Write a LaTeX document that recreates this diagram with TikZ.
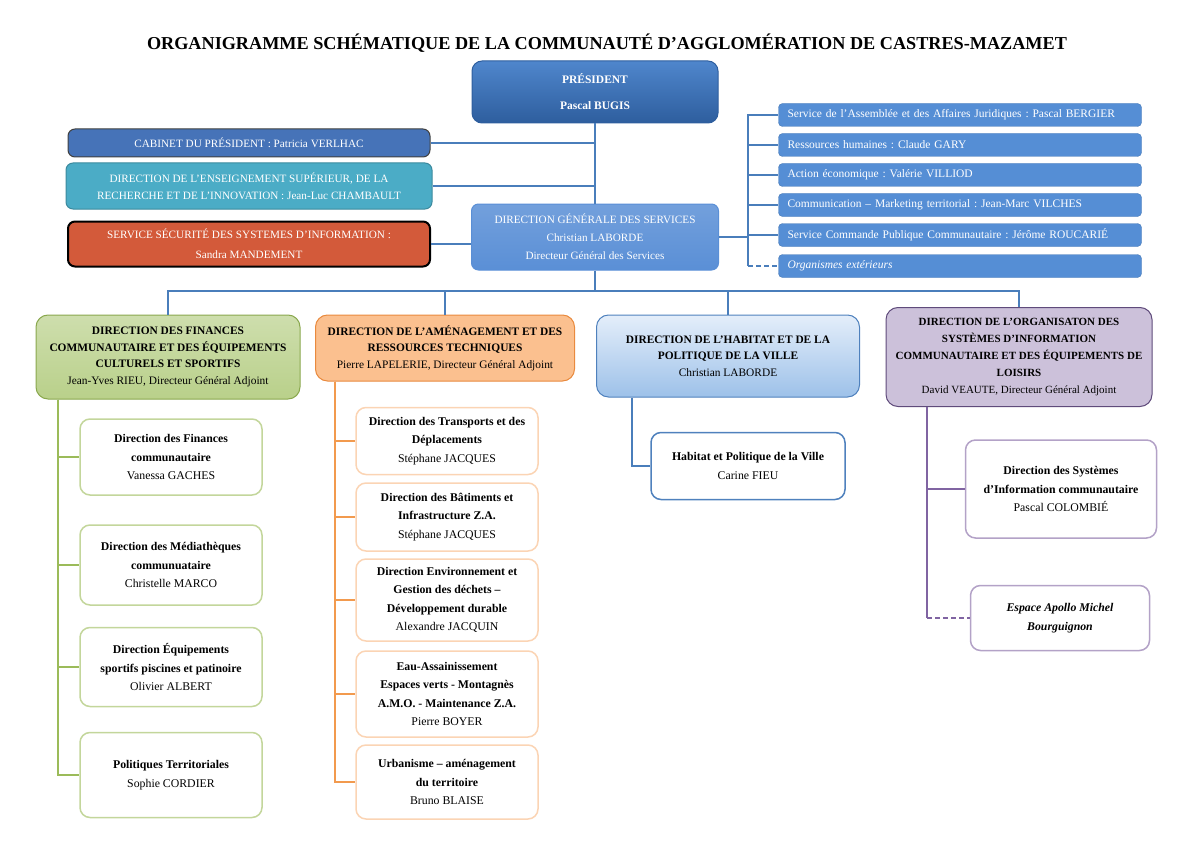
\documentclass[tikz,border=0pt]{standalone}
\usepackage{fontspec}
\setmainfont{Liberation Serif}
\frenchspacing
\definecolor{presA}{HTML}{4F86CC}
\definecolor{presB}{HTML}{2E5E9E}
\definecolor{cabfill}{HTML}{4673B8}
\definecolor{ensfill}{HTML}{4BACC6}
\definecolor{secfill}{HTML}{D35A3A}
\definecolor{dgsfill}{HTML}{5A8FD6}
\definecolor{listfill}{HTML}{558ED5}
\definecolor{blueline}{HTML}{4A7EBB}
\definecolor{greenfill}{HTML}{B9D08A}
\definecolor{greendark}{HTML}{8AA84E}
\definecolor{greenline}{HTML}{9BBB59}
\definecolor{greenkid}{HTML}{C3D69B}
\definecolor{orangefill}{HTML}{FBC08F}
\definecolor{orangedark}{HTML}{E98A3E}
\definecolor{orangeline}{HTML}{F29A4E}
\definecolor{orangekid}{HTML}{FBD4B4}
\definecolor{habA}{HTML}{E4EEFA}
\definecolor{habB}{HTML}{9DC1E9}
\definecolor{habdark}{HTML}{4F81BD}
\definecolor{purplefill}{HTML}{CCC1DA}
\definecolor{purpledark}{HTML}{5F4B7B}
\definecolor{purpleline}{HTML}{8064A2}
\definecolor{purplekid}{HTML}{B3A2C7}
\begin{document}
\begin{tikzpicture}[x=1pt,y=-1pt,
  box/.style={rounded corners=7pt, align=center, inner sep=1pt},
  topbox/.style={box, text=white, line width=1pt, font=\fontsize{11.2}{17}\selectfont},
  listbox/.style={box, rounded corners=4pt, fill=listfill, draw=listfill!85!black, text=white,
    minimum height=23pt, text width=345pt, inner xsep=9pt, align=left, font=\fontsize{11.5}{13}\selectfont},
  headbox/.style={box, rounded corners=12pt, line width=1pt, font=\fontsize{11.4}{16.5}\selectfont},
  kidbox/.style={box, rounded corners=10pt, fill=white, line width=1.5pt, font=\fontsize{11.8}{18.5}\selectfont},
  dash5/.style={dash pattern=on 5pt off 3pt},
  link/.style={draw=blueline, line width=1.5pt},
  gline/.style={draw=greenline, line width=1.5pt},
  oline/.style={draw=orangeline, line width=1.5pt},
  pline/.style={draw=purpleline, line width=1.5pt}]
\useasboundingbox (0,0) rectangle (1200,848);
\node[font=\fontsize{18.2}{21}\selectfont\bfseries] (title) at (607,43) {ORGANIGRAMME SCHÉMATIQUE DE LA COMMUNAUTÉ D’AGGLOMÉRATION DE CASTRES-MAZAMET};

\node[topbox, rounded corners=10pt, top color=presA, bottom color=presB, draw=presB, minimum width=246pt, minimum height=62pt, font=\fontsize{11.5}{26}\selectfont\bfseries] (pres) at (595,92) {PRÉSIDENT\\Pascal BUGIS};
\node[topbox, fill=cabfill, draw=black!75, minimum width=362pt, minimum height=28pt] (cab) at (249,143) {CABINET DU PRÉSIDENT : Patricia VERLHAC};
\node[topbox, fill=ensfill, draw=ensfill!80!black, minimum width=366pt, minimum height=46pt] (ens) at (249,186) {DIRECTION DE L’ENSEIGNEMENT SUPÉRIEUR, DE LA\\RECHERCHE ET DE L’INNOVATION : Jean-Luc CHAMBAULT};
\node[topbox, fill=secfill, draw=black, line width=2pt, minimum width=362pt, minimum height=45pt, font=\fontsize{11.2}{20}\selectfont] (secu) at (249,244) {SERVICE SÉCURITÉ DES SYSTEMES D’INFORMATION :\\Sandra MANDEMENT};
\node[topbox, top color=dgsfill!85!white, bottom color=dgsfill, draw=dgsfill, minimum width=247pt, minimum height=66pt, font=\fontsize{11.2}{18}\selectfont] (dgs) at (595,237) {DIRECTION GÉNÉRALE DES SERVICES\\Christian LABORDE\\Directeur Général des Services};

\node[listbox] (l1) at (960,115) {Service de l’Assemblée et des Affaires Juridiques : Pascal BERGIER};
\node[listbox] (l2) at (960,145) {Ressources humaines : Claude GARY};
\node[listbox] (l3) at (960,175) {Action économique : Valérie VILLIOD};
\node[listbox] (l4) at (960,205) {Communication – Marketing territorial : Jean-Marc VILCHES};
\node[listbox] (l5) at (960,235) {Service Commande Publique Communautaire : Jérôme ROUCARIÉ};
\node[listbox] (l6) at (960,266) {\textit{Organismes extérieurs}};

\node[headbox, top color=greenfill!70!white, bottom color=greenfill, draw=greendark, minimum width=264pt, minimum height=84pt] (fin) at (168,357) {\textbf{DIRECTION DES FINANCES}\\\textbf{COMMUNAUTAIRE ET DES ÉQUIPEMENTS}\\\textbf{CULTURELS ET SPORTIFS}\\Jean-Yves RIEU, Directeur Général Adjoint};
\node[headbox, fill=orangefill, draw=orangedark, minimum width=259pt, minimum height=66pt] (amg) at (445,348) {\textbf{DIRECTION DE L’AMÉNAGEMENT ET DES}\\\textbf{RESSOURCES TECHNIQUES}\\Pierre LAPELERIE, Directeur Général Adjoint};
\node[headbox, top color=habA, bottom color=habB, draw=habdark, minimum width=263pt, minimum height=82pt] (hab) at (728,356) {\textbf{DIRECTION DE L’HABITAT ET DE LA}\\\textbf{POLITIQUE DE LA VILLE}\\Christian LABORDE};
\node[headbox, fill=purplefill, draw=purpledark, minimum width=266pt, minimum height=99pt, font=\fontsize{11}{16.8}\selectfont] (osi) at (1019,357) {\textbf{DIRECTION DE L’ORGANISATON DES}\\\textbf{SYSTÈMES D’INFORMATION}\\\textbf{COMMUNAUTAIRE ET DES ÉQUIPEMENTS DE}\\\textbf{LOISIRS}\\David VEAUTE, Directeur Général Adjoint};

\node[kidbox, draw=greenkid, minimum width=182pt, minimum height=76pt] (g1) at (171,457) {\textbf{Direction des Finances}\\\textbf{communautaire}\\Vanessa GACHES};
\node[kidbox, draw=greenkid, minimum width=182pt, minimum height=80pt] (g2) at (171,565) {\textbf{Direction des Médiathèques}\\\textbf{communuataire}\\Christelle MARCO};
\node[kidbox, draw=greenkid, minimum width=182pt, minimum height=79pt] (g3) at (171,667) {\textbf{Direction Équipements}\\\textbf{sportifs piscines et patinoire}\\Olivier ALBERT};
\node[kidbox, draw=greenkid, minimum width=182pt, minimum height=85pt] (g4) at (171,775) {\textbf{Politiques Territoriales}\\Sophie CORDIER};

\node[kidbox, draw=orangekid, minimum width=182pt, minimum height=67pt] (o1) at (447,441) {\textbf{Direction des Transports et des}\\\textbf{Déplacements}\\Stéphane JACQUES};
\node[kidbox, draw=orangekid, minimum width=182pt, minimum height=68pt] (o2) at (447,517) {\textbf{Direction des Bâtiments et}\\\textbf{Infrastructure Z.A.}\\Stéphane JACQUES};
\node[kidbox, draw=orangekid, minimum width=182pt, minimum height=82pt] (o3) at (447,600) {\textbf{Direction Environnement et}\\\textbf{Gestion des déchets –}\\\textbf{Développement durable}\\Alexandre JACQUIN};
\node[kidbox, draw=orangekid, minimum width=182pt, minimum height=86pt] (o4) at (447,694) {\textbf{Eau-Assainissement}\\\textbf{Espaces verts - Montagnès}\\\textbf{A.M.O. - Maintenance Z.A.}\\Pierre BOYER};
\node[kidbox, draw=orangekid, minimum width=182pt, minimum height=74pt] (o5) at (447,782) {\textbf{Urbanisme – aménagement}\\\textbf{du territoire}\\Bruno BLAISE};

\node[kidbox, draw=habdark, minimum width=194pt, minimum height=67pt] (h1) at (748,466) {\textbf{Habitat et Politique de la Ville}\\Carine FIEU};

\node[kidbox, draw=purplekid, minimum width=191pt, minimum height=98pt] (p1) at (1061,489) {\textbf{Direction des Systèmes}\\\textbf{d’Information communautaire}\\Pascal COLOMBIÉ};
\node[kidbox, draw=purplekid, minimum width=179pt, minimum height=65pt] (p2) at (1060,618) {\textbf{\textit{Espace Apollo Michel}}\\\textbf{\textit{Bourguignon}}};

\draw[link] (pres.south) -- (dgs.north);
\draw[link] (cab.east) -- (cab.east -| pres.south);
\draw[link] (ens.east) -- (ens.east -| pres.south);
\draw[link] (secu.east) -- (secu.east -| dgs.west);

\coordinate (rbus) at (748,237);
\draw[link] (dgs.east) -- (rbus);
\foreach \k in {l1,l2,l3,l4,l5}
  \draw[link] (rbus) |- (\k.west);
\draw[link] (rbus) -- (rbus |- l6.west) coordinate (rend);
\draw[link, dash5] (rend) -- (l6.west);

\coordinate (mbus) at (595,291);
\draw[link] (dgs.south) -- (mbus);
\foreach \k in {fin,amg,hab,osi}
  \draw[link] (mbus) -| (\k.north);

\coordinate (gtop) at ([xshift=-110pt]fin.south);
\foreach \k in {g1,g2,g3,g4}
  \draw[gline] (gtop) |- (\k.west);
\coordinate (otop) at ([xshift=-110pt]amg.south);
\foreach \k in {o1,o2,o3,o4,o5}
  \draw[oline] (otop) |- (\k.west);
\coordinate (htop) at ([xshift=-96pt]hab.south);
\draw[link] (htop) |- (h1.west);
\coordinate (ptop) at ([xshift=-92pt]osi.south);
\draw[pline] (ptop) |- (p1.west);
\draw[pline] (ptop) -- (ptop |- p2.west) coordinate (pend);
\draw[pline, dash5] (pend) -- (p2.west);
\end{tikzpicture}
\end{document}
